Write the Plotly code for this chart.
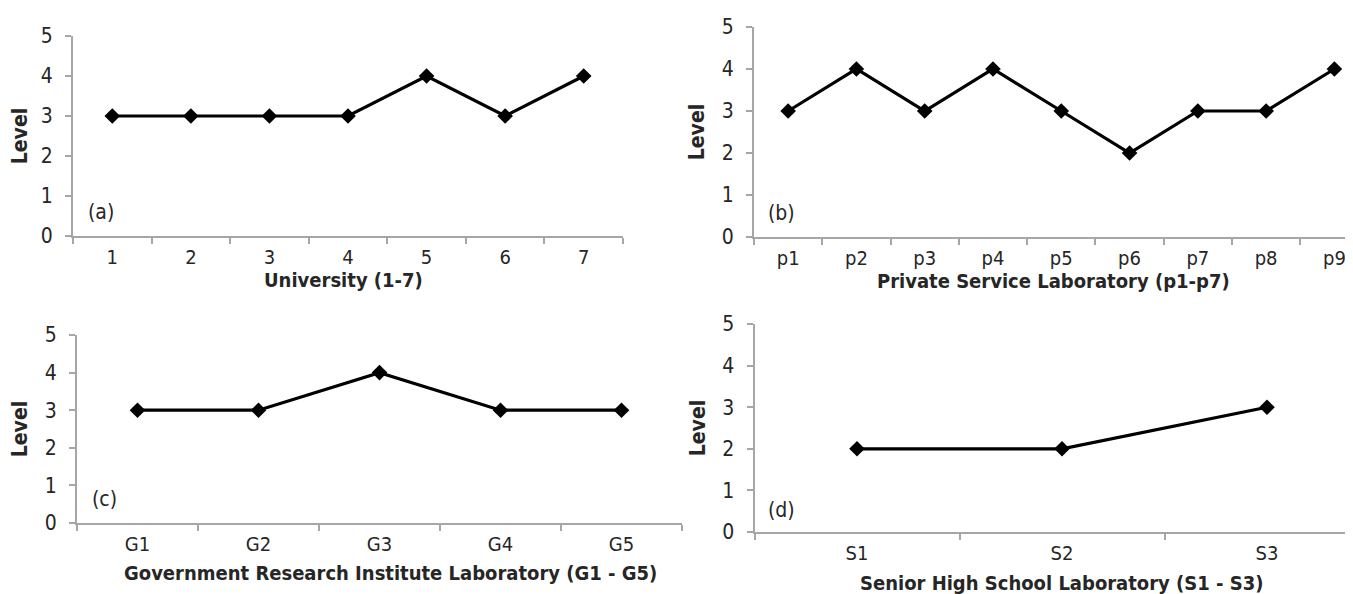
import plotly.graph_objects as go

# ---------------- data ----------------
uni_labels = ["1", "2", "3", "4", "5", "6", "7"]
uni_levels = [3, 3, 3, 3, 4, 3, 4]

priv_labels = ["p1", "p2", "p3", "p4", "p5", "p6", "p7", "p8", "p9"]
priv_levels = [3, 4, 3, 4, 3, 2, 3, 3, 4]

gov_labels = ["G1", "G2", "G3", "G4", "G5"]
gov_levels = [3, 3, 4, 3, 3]

shs_labels = ["S1", "S2", "S3"]
shs_levels = [2, 2, 3]

y_ticks = [0, 1, 2, 3, 4, 5]
y_title = "Level"
titles = ["University (1-7)", "Private Service Laboratory (p1-p7)",
          "Government Research Institute Laboratory (G1 - G5)",
          "Senior High School Laboratory (S1 - S3)"]
panel_tags = ["(a)", "(b)", "(c)", "(d)"]

# the page body has an 8px margin, so the figure is placed 8px in from the top-left
OFF = 8
W, H = 1353 - OFF, 594 - OFF
FONT = "DejaVu Sans Condensed, Liberation Sans Narrow, Arial Narrow, Liberation Sans, Arial, sans-serif"
AX = "#a6a6a6"
TXT = "#262626"


def px(x):
    return (x - OFF) / W


def py(y):
    return (H - (y - OFF)) / H


panels = [
    dict(cats=uni_labels, vals=uni_levels, x0=73, x1=623, y0=236, y5=36, rng=[-0.5, 6.5]),
    dict(cats=priv_labels, vals=priv_levels, x0=754, x1=1353, y0=237, y5=27, rng=[-0.5, (1353 - 788) / 68.3]),
    dict(cats=gov_labels, vals=gov_levels, x0=77, x1=682, y0=523, y5=335, rng=[-0.5, 4.5]),
    dict(cats=shs_labels, vals=shs_levels, x0=754.5, x1=1353, y0=532, y5=324, rng=[-0.5, (1353 - 857) / 205]),
]

fig = go.Figure()
layout = {}
for i, p in enumerate(panels):
    n = "" if i == 0 else str(i + 1)
    fig.add_trace(go.Scatter(
        x=list(range(len(p["cats"]))), y=p["vals"],
        mode="lines+markers",
        line=dict(color="black", width=3.2),
        marker=dict(symbol="diamond", size=12, color="black"),
        xaxis="x" + n, yaxis="y" + n, showlegend=False, cliponaxis=False,
    ))
    layout["xaxis" + n] = dict(
        domain=[px(p["x0"]), min(px(p["x1"]), 1)],
        anchor="y" + n,
        range=p["rng"],
        tickmode="array",
        tickvals=list(range(len(p["cats"]))),
        ticktext=p["cats"],
        showgrid=False, zeroline=False,
        showline=True, linecolor=AX, linewidth=2,
        ticks="",
        tickfont=dict(family=FONT, size=20, color=TXT),
        ticklabelstandoff=2,
        automargin=False,
        fixedrange=True,
        minor=dict(
            tickmode="array",
            tickvals=[k - 0.5 for k in range(len(p["cats"]) + 1)],
            ticks="outside", ticklen=6, tickcolor=AX, tickwidth=1.5,
        ),
    )
    layout["yaxis" + n] = dict(
        domain=[py(p["y0"]), py(p["y5"])],
        anchor="x" + n,
        range=[0, 5],
        tickvals=y_ticks,
        showgrid=False, zeroline=False,
        showline=True, linecolor=AX, linewidth=2,
        ticks="outside", ticklen=6, tickcolor=AX, tickwidth=1.5,
        tickfont=dict(family=FONT, size=21, color=TXT),
        ticklabelstandoff=8,
        automargin=False,
        title=dict(text="<b>" + y_title + "</b>", font=dict(family=FONT, size=21, color=TXT), standoff=11),
        fixedrange=True,
    )

annotations = []
tag_pos = [(101, 212), (781, 213), (104, 499), (781, 510)]
title_pos = [(343, 280), (1053, 281), (390, 573), (1062, 583)]
for i in range(4):
    tx, ty = tag_pos[i]
    annotations.append(dict(
        text=panel_tags[i], x=px(tx), y=py(ty), xref="paper", yref="paper",
        showarrow=False, xanchor="center", yanchor="middle",
        font=dict(family=FONT, size=21, color=TXT),
    ))
    cx, cy = title_pos[i]
    annotations.append(dict(
        text="<b>" + titles[i] + "</b>", x=px(cx), y=py(cy), xref="paper", yref="paper",
        showarrow=False, xanchor="center", yanchor="middle",
        font=dict(family=FONT, size=20, color=TXT),
    ))

fig.update_layout(
    width=W, height=H,
    margin=dict(l=0, r=0, t=0, b=0),
    paper_bgcolor="white", plot_bgcolor="white",
    annotations=annotations,
    **layout,
)

fig.write_html("out.html", config={"displayModeBar": False})
